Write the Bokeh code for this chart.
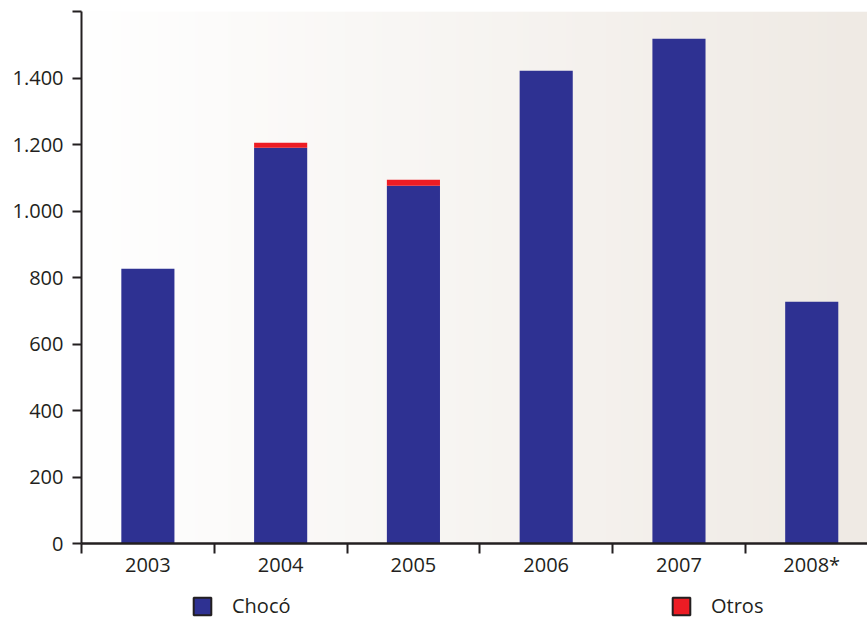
import numpy as np
from bokeh.plotting import figure
from bokeh.layouts import column
from bokeh.models import Range1d, FixedTicker, ColumnDataSource, Legend, LegendItem
from bokeh.embed import file_html
from bokeh.resources import INLINE

# ---- data ----
years = ["2003", "2004", "2005", "2006", "2007", "2008*"]
choco = [826, 1190, 1076, 1422, 1518, 727]
otros = [0, 15, 18, 0, 0, 0]
series = ["Chocó", "Otros"]
colors = ["#2e3192", "#ed1c24"]
y_ticks = [0, 200, 400, 600, 800, 1000, 1200, 1400, 1600]

FONT = "Open Sans"
DARK = "#231f20"

x_pos = [i + 0.5 for i in range(len(years))]
src = ColumnDataSource(dict(x=x_pos, **{"Chocó": choco, "Otros": otros}))

x_end = 5.92
p = figure(width=867, height=585, x_range=Range1d(0, x_end), y_range=Range1d(0, 1600),
           output_backend="svg", toolbar_location=None,
           min_border_left=81, min_border_right=0, min_border_top=11, min_border_bottom=42)
p.outline_line_color = None
p.border_fill_color = "white"
p.background_fill_color = "white"

# background gradient (decorative)
N = 256
img = np.empty((1, N), dtype=np.uint32)
view = img.view(dtype=np.uint8).reshape((1, N, 4))
t = np.linspace(0, 1, N)
c0 = np.array([255, 255, 255])
c1 = np.array([239, 234, 228])
for k in range(3):
    view[0, :, k] = (c0[k] + (c1[k] - c0[k]) * t).astype(np.uint8)
view[0, :, 3] = 255
p.image_rgba(image=[img], x=0, y=0, dw=x_end, dh=1600)

# bars
p.vbar_stack(series, x="x", width=0.4, source=src, color=colors, line_color=None)

# y axis
ya = p.yaxis[0]
ya.ticker = FixedTicker(ticks=y_ticks)
ya.major_label_overrides = {v: ("" if v == 1600 else f"{v:,}".replace(",", ".")) for v in y_ticks}
ya.major_tick_out = 9
ya.major_tick_in = 0
ya.major_tick_line_width = 2
ya.major_tick_line_color = DARK
ya.minor_tick_line_color = None
ya.axis_line_width = 2
ya.axis_line_color = DARK
ya.major_label_standoff = 9
ya.major_label_text_font = FONT
ya.major_label_text_font_size = "20px"
ya.major_label_text_color = DARK

# x axis
xa = p.xaxis[0]
xa.ticker = FixedTicker(ticks=x_pos, minor_ticks=list(range(len(years) + 1)))
xa.major_label_overrides = {x: y for x, y in zip(x_pos, years)}
xa.major_tick_out = 0
xa.major_tick_in = 0
xa.minor_tick_out = 10
xa.minor_tick_in = 0
xa.minor_tick_line_width = 2
xa.minor_tick_line_color = DARK
xa.axis_line_width = 2.5
xa.axis_line_color = DARK
xa.major_label_standoff = -3
xa.major_label_text_font = FONT
xa.major_label_text_font_size = "20px"
xa.major_label_text_color = DARK

# grid
p.xgrid.visible = False
p.ygrid.ticker = FixedTicker(ticks=y_ticks)
p.ygrid.grid_line_color = DARK
p.ygrid.grid_line_width = 2

# ---- legend strip (hidden proxy renderers, legend shown normally) ----
q = figure(width=867, height=35, output_backend="svg", toolbar_location=None,
           x_range=Range1d(0, 1), y_range=Range1d(0, 1),
           x_axis_location=None, y_axis_location=None,
           min_border_left=0, min_border_right=0, min_border_top=0, min_border_bottom=0)
q.outline_line_color = None
q.grid.visible = False
q.background_fill_color = "white"
q.border_fill_color = "white"
proxies = q.vbar_stack(series, x="x", width=0.4, source=src, fill_color=colors,
                       line_color=DARK, line_width=2)
for r in proxies:
    r.visible = False
for r, lab, loc in [(proxies[0], series[0], (110, 1)), (proxies[1], series[1], (589, 1))]:
    lg = Legend(items=[LegendItem(label=lab, renderers=[r])], location=loc,
                padding=0, margin=0, border_line_color=None, background_fill_alpha=0,
                inactive_fill_alpha=0,
                glyph_width=22, glyph_height=22, label_standoff=19,
                label_text_font=FONT, label_text_font_size="20px", label_text_color=DARK)
    q.add_layout(lg, "center")

layout = column(p, q, spacing=0)
open("out.html", "w").write(file_html(layout, INLINE))
